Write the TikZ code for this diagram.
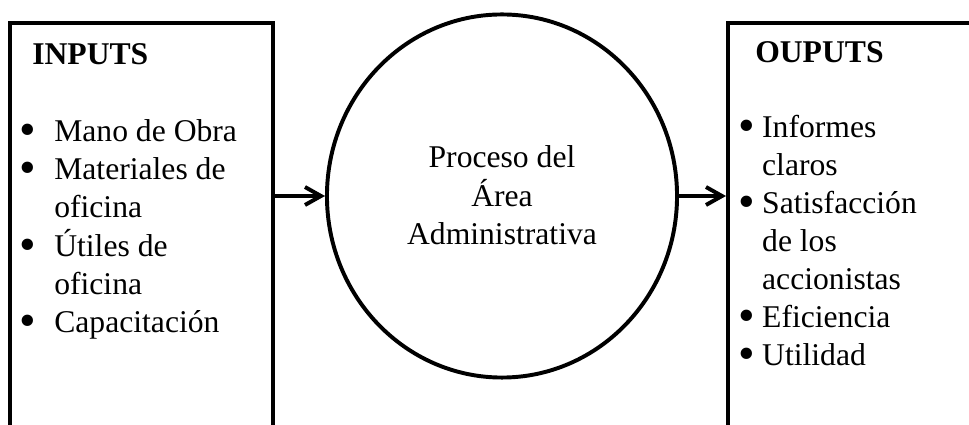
\documentclass[tikz,border=0pt]{standalone}
\usepackage{fontspec}
\usepackage{graphicx}
\setmainfont{Liberation Serif}
\usetikzlibrary{arrows.meta,shapes.geometric}

\newcommand{\bigbul}{\smash{\raisebox{-0.12em}{\scalebox{1.5}{\textbullet}}}}
\newcommand{\inbul}{\makebox[24.9pt][l]{\bigbul}}
\newcommand{\outbul}{\makebox[17pt][l]{\bigbul}}

\begin{document}
\begin{tikzpicture}[
    x=0.025cm, y=-0.025cm,
    panel/.style={draw,line width=2.8pt,inner sep=0pt,minimum height=10.925cm},
    proc/.style={draw,ellipse,line width=2.8pt,inner sep=0pt,
        minimum width=8.75cm,minimum height=9.075cm},
    txt/.style={inner sep=0pt,font=\fontsize{22.5}{27}\selectfont},
    head/.style={txt,font=\fontsize{22.5}{27}\selectfont\bfseries},
    >={Straight Barb[length=4mm,width=4.5mm]}
]
\useasboundingbox (0,0) rectangle (969,425);
\clip (0,0) rectangle (969,425);

% the three blocks
\node[panel,minimum width=6.575cm] (in) at (141.5,241.5) {};
\node[proc] (proc) at (502,196) {};
\node[panel,minimum width=6.8cm] (out) at (864,241.5) {};

% inputs
\node[head,anchor=base west] (intitle) at (32,65) {INPUTS};
\node[txt,anchor=base west] (inlist) at (19,142) {%
  \begin{tabular}[t]{@{}l@{}}
  \inbul Mano de Obra\\
  \inbul Materiales de\\
  \hspace{24.9pt}oficina\\
  \inbul Útiles de\\
  \hspace{24.9pt}oficina\\
  \inbul Capacitación
  \end{tabular}};

% process
\node[txt,anchor=base] (proctext) at (502,168) {%
  \begin{tabular}[t]{@{}c@{}}
  Proceso del\\
  Área\\
  Administrativa
  \end{tabular}};

% outputs
\node[head,anchor=base west] (outtitle) at (755,63) {OUPUTS};
\node[txt,anchor=base west] (outlist) at (738,138) {%
  \begin{tabular}[t]{@{}l@{}}
  \outbul Informes\\
  \hspace{17pt}claros\\
  \outbul Satisfacción\\
  \hspace{17pt}de los\\
  \hspace{17pt}accionistas\\
  \outbul Eficiencia\\
  \outbul Utilidad
  \end{tabular}};

% flow
\draw[->,line width=2.8pt] (in.east |- proc.west) -- (proc.west);
\draw[->,line width=2.8pt] (proc.east) -- (out.west |- proc.east);
\end{tikzpicture}
\end{document}
